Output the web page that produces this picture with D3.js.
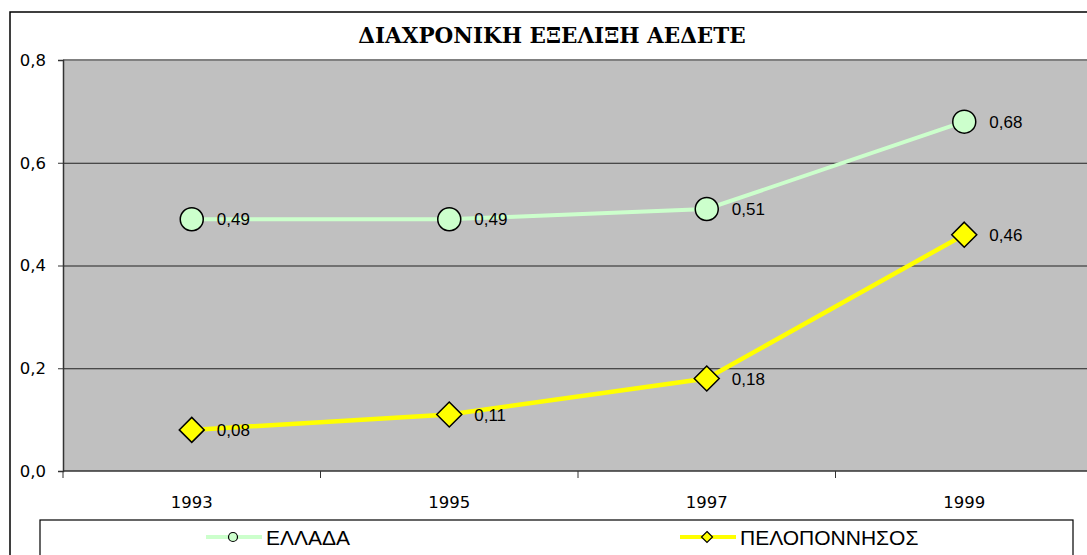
<!DOCTYPE html>
<html><head><meta charset="utf-8">
<script src="https://cdn.jsdelivr.net/npm/d3@7"></script>
<style>body{margin:0;background:#fff;}svg{display:block;}</style>
</head><body>
<svg id="c" width="1087" height="555"></svg>
<script>
const title = "ΔΙΑΧΡΟΝΙΚΗ ΕΞΕΛΙΞΗ ΑΕΔΕΤΕ";
const years = ["1993", "1995", "1997", "1999"];
const elladaValues = [0.49, 0.49, 0.51, 0.68];
const peloponnisosValues = [0.08, 0.11, 0.18, 0.46];
const yTicks = [0, 0.2, 0.4, 0.6, 0.8];
const seriesNames = ["ΕΛΛΑΔΑ", "ΠΕΛΟΠΟΝΝΗΣΟΣ"];

const svg = d3.select("#c");
const W = 1087, H = 555;
const plot = {left: 63, right: 1093, top: 60, bottom: 471};
const locale = d3.formatLocale({decimal: ",", thousands: ".", grouping: [3], currency: ["", "€"]});
const fmt1 = locale.format(".1f"), fmt2 = locale.format(".2f");
const sans = "Liberation Sans, Arial, sans-serif";
const tickFont = "DejaVu Sans, Verdana, sans-serif";

const x = d3.scaleBand().domain(years).range([plot.left, plot.right]).padding(0);
const cx = d => x(d) + x.bandwidth() / 2;
const y = d3.scaleLinear().domain([0, 0.8]).range([plot.bottom, plot.top]);

// outer chart border
svg.append("rect").attr("x", 10).attr("y", 12).attr("width", W + 20).attr("height", H + 20)
  .attr("fill", "#fff").attr("stroke", "#000").attr("stroke-width", 1.5);

// title
svg.append("text").attr("x", 552).attr("y", 43).attr("text-anchor", "middle")
  .style("font-family", "'DejaVu Serif', serif")
  .style("font-weight", "bold").style("font-size", "21.5px")
  .attr("fill", "#000").text(title);

// plot area
svg.append("rect").attr("x", plot.left).attr("y", plot.top).attr("width", plot.right - plot.left)
  .attr("height", plot.bottom - plot.top).attr("fill", "#c0c0c0");
svg.append("line").attr("x1", plot.left).attr("x2", W).attr("y1", plot.top).attr("y2", plot.top)
  .attr("stroke", "#808080").attr("stroke-width", 2);

// gridlines
svg.append("g").selectAll("line").data(yTicks.filter(t => t > 0 && t < 0.8)).join("line")
  .attr("x1", plot.left).attr("x2", W).attr("y1", d => y(d) + 0.5).attr("y2", d => y(d) + 0.5)
  .attr("stroke", "#222").attr("stroke-width", 1);

// y axis
const yAxis = d3.axisLeft(y).tickValues(yTicks).tickFormat(fmt1).tickSize(5).tickPadding(12);
const gy = svg.append("g").attr("transform", `translate(${plot.left},0)`).call(yAxis);
gy.select(".domain").attr("stroke", "#333").attr("stroke-width", 1.5);
gy.selectAll(".tick line").attr("stroke", "#333");
gy.selectAll("text").attr("font-family", null).style("font-family", tickFont).style("font-size", "16.5px").attr("fill", "#000");

// x axis
const gx = svg.append("g").attr("transform", `translate(0,${plot.bottom})`);
gx.append("line").attr("x1", plot.left).attr("x2", W).attr("y1", 0).attr("y2", 0)
  .attr("stroke", "#333").attr("stroke-width", 1.5);
const boundaries = years.map(d => x(d));
gx.selectAll("line.t").data(boundaries).join("line").attr("class", "t")
  .attr("x1", d => d).attr("x2", d => d).attr("y1", 0).attr("y2", 7).attr("stroke", "#333");
gx.selectAll("text").data(years).join("text")
  .attr("x", d => cx(d)).attr("y", 37).attr("text-anchor", "middle")
  .style("font-family", tickFont).style("font-size", "16.5px").attr("fill", "#000").text(d => d);

const line = d3.line().x((d, i) => cx(years[i])).y(d => y(d));

// ELLADA
svg.append("path").datum(elladaValues).attr("d", line).attr("fill", "none")
  .attr("stroke", "#ccffcc").attr("stroke-width", 4);
// PELOPONNISOS
svg.append("path").datum(peloponnisosValues).attr("d", line).attr("fill", "none")
  .attr("stroke", "#ffff00").attr("stroke-width", 4.5);

svg.append("g").selectAll("circle").data(elladaValues).join("circle")
  .attr("cx", (d, i) => cx(years[i])).attr("cy", d => y(d)).attr("r", 11.5)
  .attr("fill", "#ccffcc").attr("stroke", "#000").attr("stroke-width", 1.5);

const diamond = (s) => `M0,${-s}L${s},0L0,${s}L${-s},0Z`;
svg.append("g").selectAll("path").data(peloponnisosValues).join("path")
  .attr("transform", (d, i) => `translate(${cx(years[i])},${y(d)})`).attr("d", diamond(12.5))
  .attr("fill", "#ffff00").attr("stroke", "#000").attr("stroke-width", 1.5);

// data labels
[elladaValues, peloponnisosValues].forEach(vals => {
  svg.append("g").selectAll("text").data(vals).join("text")
    .attr("x", (d, i) => cx(years[i]) + 25).attr("y", d => y(d)).attr("dy", "0.36em")
    .style("font-family", sans).style("font-size", "17px").attr("fill", "#000")
    .text(d => fmt2(d));
});

// legend
svg.append("rect").attr("x", 40).attr("y", 520).attr("width", 1033).attr("height", 60)
  .attr("fill", "#fff").attr("stroke", "#000").attr("stroke-width", 1.2);
const lg = [{x: 206, name: seriesNames[0], color: "#ccffcc", shape: "circle"},
            {x: 680, name: seriesNames[1], color: "#ffff00", shape: "diamond"}];
lg.forEach(e => {
  svg.append("line").attr("x1", e.x).attr("x2", e.x + 56).attr("y1", 537).attr("y2", 537)
    .attr("stroke", e.color).attr("stroke-width", 4);
  if (e.shape === "circle") {
    svg.append("circle").attr("cx", e.x + 27).attr("cy", 537).attr("r", 4.5)
      .attr("fill", e.color).attr("stroke", "#000").attr("stroke-width", 1.2);
  } else {
    svg.append("path").attr("transform", `translate(${e.x + 27},537)`).attr("d", diamond(5.5))
      .attr("fill", e.color).attr("stroke", "#000").attr("stroke-width", 1.2);
  }
  svg.append("text").attr("x", e.x + 60).attr("y", 537).attr("dy", "0.36em")
    .style("font-family", sans).style("font-size", "21px").attr("fill", "#000")
    .text(e.name);
});
</script>
</body></html>
